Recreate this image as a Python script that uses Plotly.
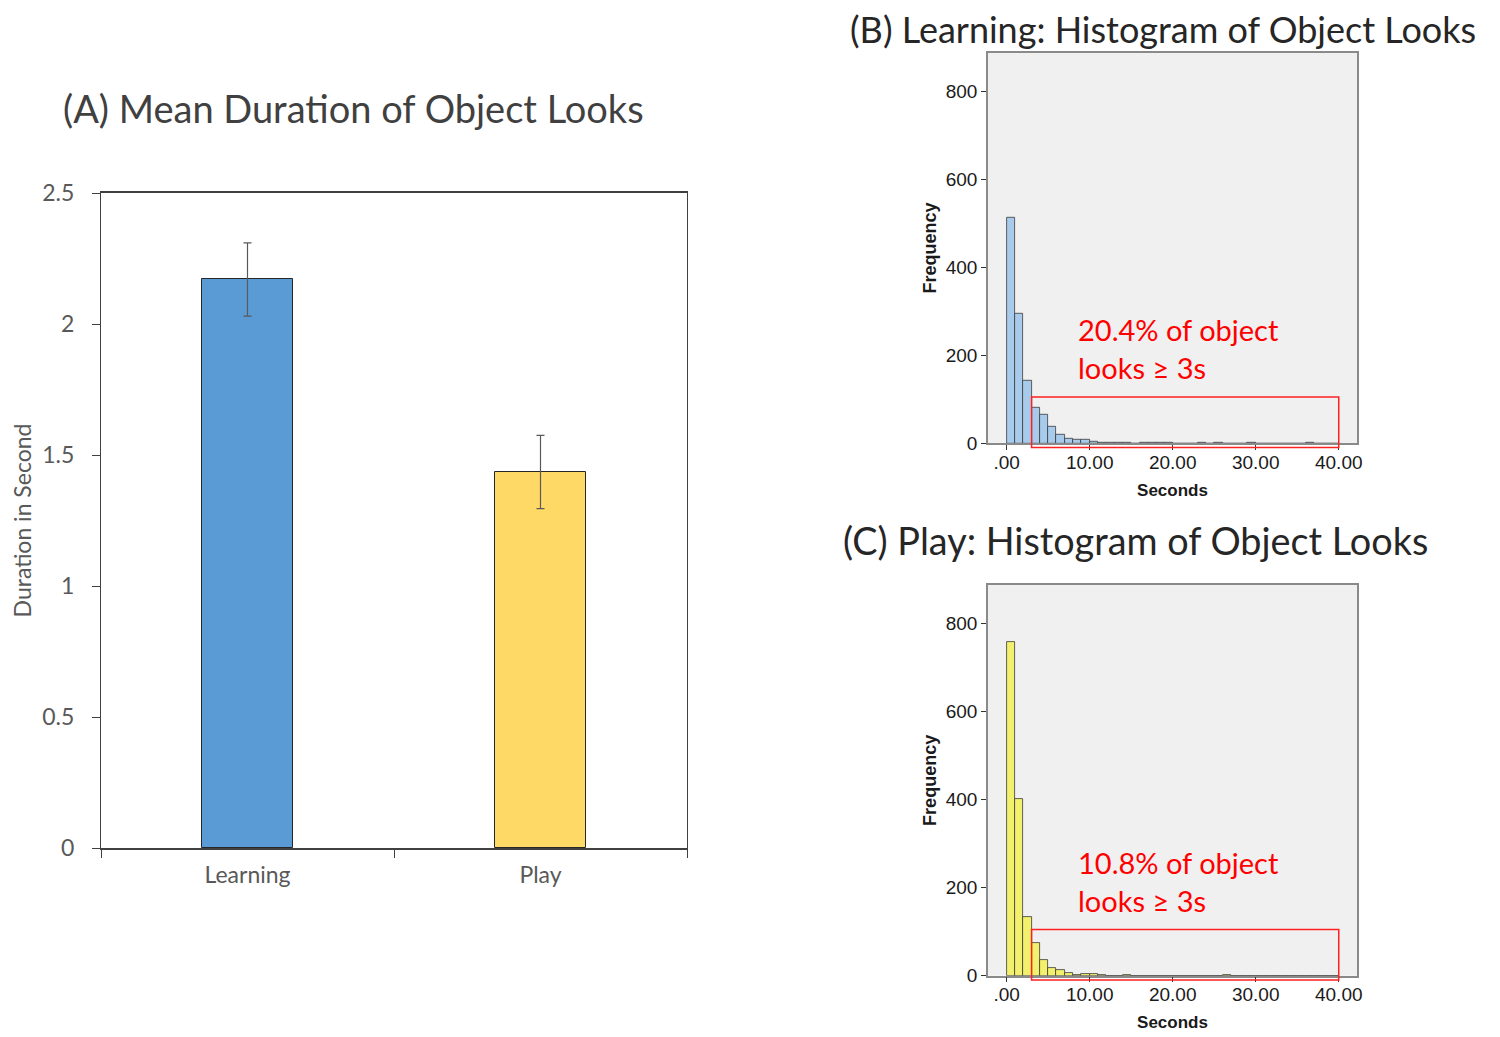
import plotly.graph_objects as go

# ---- Panel A data ----
conditions = ["Learning", "Play"]
mean_duration = [2.17, 1.435]
error_se = [0.14, 0.14]
bar_colors = ["#5b9bd5", "#ffd966"]

# ---- Panels B / C histogram data (1-second bins starting at 0) ----
bin_starts = list(range(0, 40))
learning_counts = [513, 294, 142, 80, 64, 38, 19, 11, 9, 8,
                   3, 2, 2, 2, 1, 0, 1, 2, 2, 1,
                   0, 0, 0, 1, 0, 1, 0, 0, 0, 1,
                   0, 0, 0, 0, 0, 0, 1, 0, 0, 0]
play_counts = [759, 402, 133, 74, 36, 18, 14, 6, 2, 5,
               3, 1, 0, 0, 1, 0, 0, 0, 0, 0,
               0, 0, 0, 0, 0, 0, 1, 0, 0, 0,
               0, 0, 0, 0, 0, 0, 0, 0, 0, 0]
hist_ticks = [0, 10, 20, 30, 40]
hist_ticklabels = [".00", "10.00", "20.00", "30.00", "40.00"]
freq_ticks = [0, 200, 400, 600, 800]
freq_max = 888
highlight_x = [3, 40]
highlight_top = 105
learning_note = ["20.4% of object", "looks \u2265 3s"]
play_note = ["10.8% of object", "looks \u2265 3s"]

W, H = 1500, 1037
OFF = 8  # page body margin in the browser
TITLE_FONT = "Lato, Open Sans, sans-serif"
SPSS_FONT = "Liberation Sans, Arial, sans-serif"


def px(x):
    return (x - OFF) / W


def py(y):
    return 1 - (y - OFF) / H


fig = go.Figure()

# Panel A bars
fig.add_trace(go.Bar(
    x=conditions, y=mean_duration, width=0.31,
    marker=dict(color=bar_colors, line=dict(color="#262626", width=1)),
    error_y=dict(type="data", array=error_se, color="#595959", thickness=1.2, width=4),
    xaxis="x", yaxis="y", showlegend=False,
))

# Panel B histogram
fig.add_trace(go.Bar(
    x=[b + 0.5 for b in bin_starts], y=learning_counts, width=1,
    marker=dict(color="#a8cbec", line=dict(color="#3a3a3a", width=0.8)),
    xaxis="x2", yaxis="y2", showlegend=False,
))

# Panel C histogram
fig.add_trace(go.Bar(
    x=[b + 0.5 for b in bin_starts], y=play_counts, width=1,
    marker=dict(color="#f2f06c", line=dict(color="#3a3a3a", width=0.8)),
    xaxis="x3", yaxis="y3", showlegend=False,
))

dom_a_x = [px(101), px(687)]
dom_a_y = [py(848), py(193)]
dom_h_x = [px(988), px(1357)]
dom_b_y = [py(443.3), py(52.7)]
dom_c_y = [py(975.7), py(585)]

hist_x_common = dict(
    range=[-2.25, 42.2], tickvals=hist_ticks, ticktext=hist_ticklabels,
    ticks="outside", ticklen=5, tickcolor="#333",
    showline=True, linecolor="#8a8a8a", linewidth=1.5, mirror=True,
    showgrid=False, zeroline=False, automargin=False,
    ticklabelstandoff=-4,
    tickfont=dict(family=SPSS_FONT, size=19, color="#1a1a1a"),
    title=dict(text="<b>Seconds</b>", font=dict(family=SPSS_FONT, size=17, color="#1a1a1a"), standoff=12),
)
hist_y_common = dict(
    range=[0, freq_max], tickvals=freq_ticks,
    ticks="outside", ticklen=5, tickcolor="#333",
    showline=True, linecolor="#8a8a8a", linewidth=1.5, mirror=True,
    showgrid=False, zeroline=False, automargin=False,
    tickfont=dict(family=SPSS_FONT, size=19, color="#1a1a1a"),
    title=dict(text="<b>Frequency</b>", font=dict(family=SPSS_FONT, size=18, color="#1a1a1a"), standoff=4),
)

fig.update_layout(
    width=W, height=H,
    margin=dict(l=0, r=0, t=0, b=0, pad=0, autoexpand=False),
    paper_bgcolor="white",
    plot_bgcolor="white",
    bargap=0,
    xaxis=dict(
        domain=dom_a_x, anchor="y", range=[-0.5, 1.5], automargin=False,
        tickson="boundaries", ticks="outside", ticklen=8, tickcolor="#404040",
        showline=True, linecolor="#404040", linewidth=1.5, mirror=True,
        showgrid=False, ticklabelstandoff=6,
        tickfont=dict(family=TITLE_FONT, size=23, color="#595959"),
    ),
    yaxis=dict(
        domain=dom_a_y, anchor="x", range=[0, 2.5], automargin=False,
        tickvals=[0, 0.5, 1, 1.5, 2, 2.5], ticktext=["0", "0.5", "1", "1.5", "2", "2.5"],
        ticks="outside", ticklen=8, tickcolor="#404040",
        showline=True, linecolor="#404040", linewidth=1.2, mirror=True,
        showgrid=False, zeroline=False,
        ticklabelstandoff=13,
        tickfont=dict(family=TITLE_FONT, size=23, color="#595959"),
        title=dict(text="Duration in Second", font=dict(family=TITLE_FONT, size=23, color="#595959"), standoff=8),
    ),
    xaxis2=dict(domain=dom_h_x, anchor="y2", **hist_x_common),
    yaxis2=dict(domain=dom_b_y, anchor="x2", **hist_y_common),
    xaxis3=dict(domain=dom_h_x, anchor="y3", **hist_x_common),
    yaxis3=dict(domain=dom_c_y, anchor="x3", **hist_y_common),
)

# Histogram backgrounds (light gray plot areas)
for xr, yr in [("x2", "y2"), ("x3", "y3")]:
    fig.add_shape(type="rect", xref=f"{xr} domain", yref=f"{yr} domain",
                  x0=0, x1=1, y0=0, y1=1, fillcolor="#f0f0f0", line=dict(width=0), layer="below")

# Red highlight rectangles (looks >= 3 s); slightly overlapping the axis at the bottom
for xr, yr in [("x2", "y2"), ("x3", "y3")]:
    fig.add_shape(type="rect", xref=xr, yref=f"{yr} domain",
                  x0=highlight_x[0], x1=highlight_x[1],
                  y0=-0.011, y1=highlight_top / freq_max,
                  line=dict(color="#ff2020", width=1.5), fillcolor="rgba(0,0,0,0)", layer="above")

# Titles
fig.add_annotation(text="(A) Mean Duration of Object Looks", xref="paper", yref="paper",
                   x=px(353.5), y=py(108), xanchor="center", yanchor="middle", showarrow=False,
                   font=dict(family=TITLE_FONT, size=38, color="#404040"))
fig.add_annotation(text="(B) Learning: Histogram of Object Looks", xref="paper", yref="paper",
                   x=px(1163), y=py(29), xanchor="center", yanchor="middle", showarrow=False,
                   font=dict(family=TITLE_FONT, size=36, color="#262626"))
fig.add_annotation(text="(C) Play: Histogram of Object Looks", xref="paper", yref="paper",
                   x=px(1135), y=py(540), xanchor="center", yanchor="middle", showarrow=False,
                   font=dict(family=TITLE_FONT, size=37.8, color="#262626"))

# Red notes
for (xr, yr), note in [(("x2", "y2"), learning_note), (("x3", "y3"), play_note)]:
    for i, line in enumerate(note):
        fig.add_annotation(text=line, xref=xr, yref=yr, x=8.4, y=258 - i * 86,
                           xanchor="left", yanchor="middle", showarrow=False,
                           font=dict(family=TITLE_FONT, size=29, color="#ff0000"))

fig.write_html("out.html")
